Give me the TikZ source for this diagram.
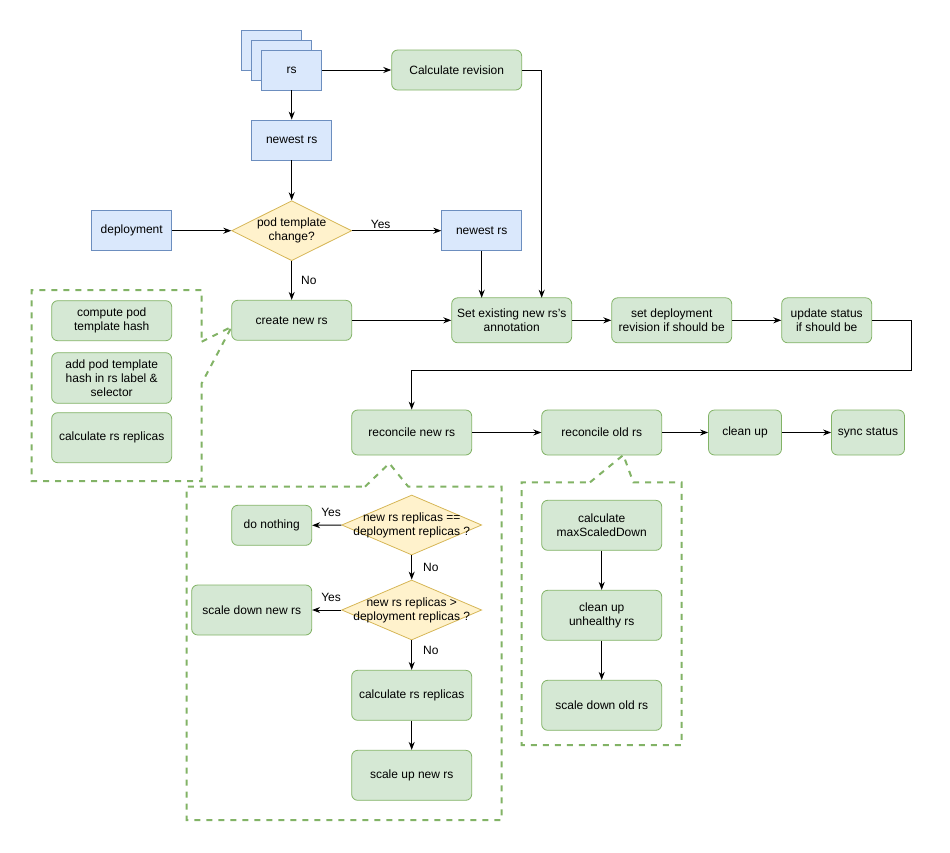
\documentclass[tikz,border=0pt]{standalone}
\usepackage{fontspec}
\setmainfont{Liberation Sans}
\usetikzlibrary{arrows.meta,shapes.geometric,calc}
\definecolor{gfill}{HTML}{D5E8D4}
\definecolor{gline}{HTML}{82B366}
\definecolor{bfill}{HTML}{DAE8FC}
\definecolor{bline}{HTML}{6C8EBF}
\definecolor{yfill}{HTML}{FFF2CC}
\definecolor{yline}{HTML}{D6B656}
\tikzset{
  txt/.style={font=\fontsize{12}{14}\selectfont, align=center},
  gbox/.style={txt, draw=gline, fill=gfill, rounded corners=6pt, inner sep=0pt, line width=0.8pt},
  bbox/.style={txt, draw=bline, fill=bfill, inner sep=0pt, line width=0.8pt},
  dec/.style={draw=yline, fill=yfill, diamond, inner sep=0pt, line width=0.8pt},
  arr/.style={draw=black, line width=1pt, -{Stealth[length=8pt,width=6pt]}},
  ln/.style={draw=black, line width=1pt},
  callout/.style={draw=gline, line width=2pt, dash pattern=on 6pt off 6pt},
  lbl/.style={txt, inner sep=1pt}
}
\begin{document}
\begin{tikzpicture}[x=1pt,y=-1pt]
\useasboundingbox (0,0) rectangle (950,852);
% callouts
\draw[callout] (201.7,341.7) -- (231.7,326.7) -- (201.7,383.3) -- (201.7,481) -- (31.7,481) -- (31.7,290) -- (201.7,290) -- cycle;
\draw[callout] (365,486.7) -- (389.3,463.3) -- (408.3,486.7) -- (501.7,486.7) -- (501.7,820) -- (186.7,820) -- (186.7,486.7) -- cycle;
\draw[callout] (590,482.3) -- (623.3,455) -- (633.3,482.3) -- (681.7,482.3) -- (681.7,745) -- (521.7,745) -- (521.7,482.3) -- cycle;
% rs stack
\node[bbox, minimum width=60pt, minimum height=40pt] (rs3) at (271.7,50) {};
\node[bbox, minimum width=60pt, minimum height=40pt] (rs2) at (281.7,60) {};
\node[bbox, minimum width=60pt, minimum height=40pt] (rs) at (291.7,70) {rs};
\node[gbox, minimum width=130pt, minimum height=40pt] (calc) at (456.7,70) {Calculate revision};
\node[bbox, minimum width=80pt, minimum height=40pt] (newest) at (291.7,140) {newest rs};
\node[bbox, minimum width=80pt, minimum height=40pt] (deploy) at (131.7,230.7) {deployment};
\node[dec, minimum width=120pt, minimum height=60pt, label={[txt]center:pod template\\change?}] (ptc) at (291.7,230.7) {};
\node[bbox, minimum width=80pt, minimum height=40pt] (newest2) at (481.7,230.7) {newest rs};
\node[gbox, minimum width=120pt, minimum height=40pt] (create) at (291.7,320.3) {create new rs};
\node[gbox, minimum width=120pt, minimum height=45pt] (setex) at (511.7,320.3) {Set existing new rs's\\annotation};
\node[gbox, minimum width=120pt, minimum height=45pt] (setdep) at (671.7,320.3) {set deployment\\revision if should be};
\node[gbox, minimum width=90pt, minimum height=45pt] (upd) at (826.7,320.3) {update status\\if should be};
% left group
\node[gbox, minimum width=120pt, minimum height=40pt] (hash) at (111.7,320.7) {compute pod\\template hash};
\node[gbox, minimum width=120pt, minimum height=50.6pt] (addhash) at (111.7,378) {add pod template\\hash in rs label \&\\selector};
\node[gbox, minimum width=120pt, minimum height=50pt] (calcrep) at (111.7,437.7) {calculate rs replicas};
% reconcile row
\node[gbox, minimum width=120pt, minimum height=45pt] (recnew) at (411.7,432.5) {reconcile new rs};
\node[gbox, minimum width=120pt, minimum height=45pt] (recold) at (601.7,432.5) {reconcile old rs};
\node[gbox, minimum width=73pt, minimum height=45pt] (clean) at (745,432.5) {clean up};
\node[gbox, minimum width=73pt, minimum height=45pt] (sync) at (868,432.5) {sync status};
% middle group
\node[gbox, minimum width=80pt, minimum height=40pt] (nothing) at (271.7,525.3) {do nothing};
\node[dec, minimum width=140pt, minimum height=60pt, label={[txt]center:new rs replicas ==\\deployment replicas ?}] (d1) at (411.7,525) {};
\node[gbox, minimum width=120pt, minimum height=50pt] (sdnew) at (251.7,610) {scale down new rs};
\node[dec, minimum width=140pt, minimum height=60pt, label={[txt]center:new rs replicas \textgreater\\deployment replicas ?}] (d2) at (411.7,610) {};
\node[gbox, minimum width=120pt, minimum height=50pt] (calcrep2) at (411.7,695.3) {calculate rs replicas};
\node[gbox, minimum width=120pt, minimum height=50pt] (scaleup) at (411.7,775.3) {scale up new rs};
% right group
\node[gbox, minimum width=120pt, minimum height=50pt] (maxsd) at (601.7,525.3) {calculate\\maxScaledDown};
\node[gbox, minimum width=120pt, minimum height=50pt] (unh) at (601.7,615.3) {clean up\\unhealthy rs};
\node[gbox, minimum width=120pt, minimum height=50pt] (sdold) at (601.7,705.3) {scale down old rs};
% coordinates
\coordinate (crdown) at (541.7,297.8);
\coordinate (nrdown) at (481.7,297.8);
\coordinate (u1) at (911.7,320.3);
\coordinate (u2) at (911.7,370);
\coordinate (u3) at (411.7,370);
% edges
\draw[arr] (rs.east) -- (calc.west);
\draw[arr] (rs.south) -- (newest.north);
\draw[arr] (newest.south) -- (ptc.north);
\draw[arr] (deploy.east) -- (ptc.west);
\draw[arr] (ptc.east) -- node[lbl, above, pos=0.32, yshift=1pt] {Yes} (newest2.west);
\draw[arr] (ptc.south) -- node[lbl, right, xshift=8pt] {No} (create.north);
\draw[arr] (newest2.south) -- (nrdown);
\draw[arr] (calc.east) -| (crdown);
\draw[arr] (create.east) -- (setex.west);
\draw[arr] (setex.east) -- (setdep.west);
\draw[arr] (setdep.east) -- (upd.west);
\draw[ln] (upd.east) -- (u1) -- (u2) -- (u3);
\draw[arr] (u3) -- (recnew.north);
\draw[arr] (recnew.east) -- (recold.west);
\draw[arr] (recold.east) -- (clean.west);
\draw[arr] (clean.east) -- (sync.west);
\draw[arr] (d1.west) -- node[lbl, above, yshift=7pt, pos=0.35] {Yes} (nothing.east);
\draw[arr] (d1.south) -- node[lbl, right, xshift=10pt] {No} (d2.north);
\draw[arr] (d2.west) -- node[lbl, above, yshift=7pt, pos=0.35] {Yes} (sdnew.east);
\draw[arr] (d2.south) -- node[lbl, right, xshift=10pt, pos=0.35] {No} (calcrep2.north);
\draw[arr] (calcrep2.south) -- (scaleup.north);
\draw[arr] (maxsd.south) -- (unh.north);
\draw[arr] (unh.south) -- (sdold.north);
\end{tikzpicture}
\end{document}
